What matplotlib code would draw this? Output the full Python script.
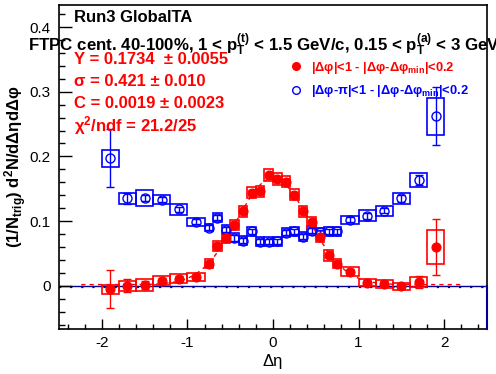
import numpy as np
import matplotlib
matplotlib.use("Agg")
import matplotlib.pyplot as plt
from matplotlib.lines import Line2D

plt.rcParams['font.family'] = ['Liberation Sans', 'DejaVu Sans']
plt.rcParams['mathtext.fontset'] = 'custom'
plt.rcParams['mathtext.rm'] = 'Liberation Sans:bold'
plt.rcParams['mathtext.it'] = 'Liberation Sans:bold'
plt.rcParams['mathtext.bf'] = 'Liberation Sans:bold'

# ---- data ----
eta = [-1.9, -1.7, -1.5, -1.3, -1.1, -0.9,
       -0.75, -0.65, -0.55, -0.45, -0.35, -0.25, -0.15, -0.05,
       0.05, 0.15, 0.25, 0.35, 0.45, 0.55, 0.65, 0.75,
       0.9, 1.1, 1.3, 1.5, 1.7, 1.9]
bin_width = [0.2] * 6 + [0.1] * 16 + [0.2] * 6

near_y = [-0.005, 0.000, 0.001, 0.008, 0.011, 0.014,
          0.034, 0.062, 0.074, 0.094, 0.115, 0.144, 0.146, 0.171,
          0.165, 0.161, 0.141, 0.115, 0.098, 0.076, 0.047, 0.034,
          0.022, 0.005, 0.003, -0.001, 0.006, 0.060]
near_stat = [0.030, 0.010, 0.006, 0.004, 0.004, 0.004,
             0.004, 0.004, 0.004, 0.004, 0.004, 0.004, 0.004, 0.004,
             0.004, 0.004, 0.004, 0.004, 0.004, 0.004, 0.004, 0.004,
             0.004, 0.004, 0.004, 0.004, 0.009, 0.043]
near_sys = [0.007, 0.008, 0.009, 0.007, 0.007, 0.006,
            0.007, 0.008, 0.008, 0.008, 0.009, 0.009, 0.009, 0.009,
            0.009, 0.009, 0.009, 0.009, 0.008, 0.008, 0.008, 0.007,
            0.007, 0.006, 0.006, 0.006, 0.008, 0.026]

away_y = [0.197, 0.135, 0.136, 0.133, 0.118, 0.099,
          0.090, 0.105, 0.087, 0.074, 0.070, 0.084, 0.068, 0.068,
          0.069, 0.082, 0.084, 0.076, 0.085, 0.083, 0.084, 0.084,
          0.102, 0.108, 0.116, 0.135, 0.164, 0.262]
away_stat = [0.045, 0.009, 0.005, 0.004, 0.004, 0.004,
             0.004, 0.004, 0.004, 0.004, 0.004, 0.004, 0.004, 0.004,
             0.004, 0.004, 0.004, 0.004, 0.004, 0.004, 0.004, 0.004,
             0.004, 0.004, 0.004, 0.005, 0.008, 0.045]
away_sys = [0.013, 0.009, 0.012, 0.007, 0.008, 0.006,
            0.006, 0.007, 0.007, 0.007, 0.007, 0.007, 0.007, 0.007,
            0.007, 0.007, 0.007, 0.007, 0.007, 0.007, 0.007, 0.007,
            0.006, 0.0085, 0.008, 0.008, 0.011, 0.029]

fit_Y, fit_sigma, fit_C = 0.1734, 0.421, 0.0019
fit_range = [-2.24, 2.23]

xticks = [-2, -1, 0, 1, 2]
yticks = [0, 0.1, 0.2, 0.3, 0.4]

RED = '#ff0000'
BLUE = '#0000ff'
NAVY = '#000099'

fig = plt.figure(figsize=(4.96, 3.74), dpi=100)
ax = fig.add_axes([59/496, 1-329/374, (487-59)/496, (329-5)/374])
ax.set_xlim(-2.5, 2.5)
ax.set_ylim(-0.0667, 0.434)

eta_a = np.array(eta)
w = np.array(bin_width)

# systematic boxes
for yv, sy, col in [(away_y, away_sys, BLUE), (near_y, near_sys, RED)]:
    yv = np.array(yv); sy = np.array(sy)
    ax.bar(eta_a, 2*sy, width=w, bottom=yv-sy, fill=False, edgecolor=col,
           linewidth=1.2, zorder=2)

# zero line
ax.axhline(0, color=NAVY, lw=1.0, zorder=1)
ax.axhline(-0.0012, color=NAVY, lw=1.6, ls=(0, (1, 4)), zorder=1)
ax.plot([2.5, 2.5], [-0.0667, 0], color=NAVY, lw=1.5, zorder=5, clip_on=False)

# fit
xf = np.linspace(fit_range[0], fit_range[1], 400)
yf = fit_C + fit_Y/(np.sqrt(2*np.pi)*fit_sigma)*np.exp(-xf**2/(2*fit_sigma**2))
ax.plot(xf, yf, color=RED, lw=1.0, ls=(0, (3, 3)), zorder=3)

# data points
ax.errorbar(eta, away_y, yerr=away_stat, fmt='o', ms=6.5, mfc='none', mec=BLUE,
            mew=1.0, ecolor=BLUE, elinewidth=1.0, capsize=3, capthick=1.0, zorder=4)
ax.errorbar(eta, near_y, yerr=near_stat, fmt='o', ms=6.3, mfc=RED, mec=RED,
            ecolor=RED, elinewidth=1.0, capsize=3, capthick=1.0, zorder=4)

# ticks
ax.set_xticks(xticks)
ax.set_xticklabels(['-2', '-1', '0', '1', '2'])
ax.set_yticks(yticks)
ax.set_yticklabels(['0', '0.1', '0.2', '0.3', '0.4'])
ax.set_xticks(np.arange(-2.4, 2.41, 0.2), minor=True)
ax.set_yticks(np.arange(-0.06, 0.431, 0.02), minor=True)
ax.tick_params(axis='both', which='both', direction='in', top=False, right=False,
               labelsize=11, width=1)
ax.tick_params(axis='y', which='major', length=9, pad=6)
ax.tick_params(axis='y', which='minor', length=4.5)
ax.tick_params(axis='x', which='major', length=7, pad=5)
ax.tick_params(axis='x', which='minor', length=3.6)
for s in ax.spines.values():
    s.set_linewidth(1.2)

ax.set_xlabel('Δη', fontsize=12, labelpad=3)
fig.text(16/496, 1-167/374, r'(1/N$_{\mathregular{trig}}$) d$^{\mathregular{2}}$N/dΔηdΔφ',
         rotation=90, fontsize=12, fontweight='bold', ha='center', va='center')

# texts
fig.text(74/496, 1-18/374, 'Run3 GlobalTA', fontsize=12, fontweight='bold',
         ha='left', va='center')
fig.text(28/496, 1-45/374,
         r'FTPC cent. 40-100%, 1 < p$_{\mathregular{T}}^{\mathregular{(t)}}$ < 1.5 GeV/c, 0.15 < p$_{\mathregular{T}}^{\mathregular{(a)}}$ < 3 GeV/c',
         fontsize=12.2, fontweight='bold', ha='left', va='center')
red_lines = ['Y = 0.1734  ± 0.0055', 'σ = 0.421 ± 0.010',
             'C = 0.0019 ± 0.0023', r'χ$^{\mathregular{2}}$/ndf = 21.2/25']
for i, t in enumerate(red_lines):
    fig.text(74/496, 1-(60+22*i)/374, t, fontsize=12, fontweight='bold',
             color=RED, ha='left', va='center')

handles = [Line2D([], [], ls='none', marker='o', ms=5.5, mfc=RED, mec=RED),
           Line2D([], [], ls='none', marker='o', ms=5.5, mfc='none', mec=BLUE)]
labels = [r'|Δφ|<1 - |Δφ-Δφ$_{\mathregular{min}}$|<0.2',
          r'|Δφ-π|<1 - |Δφ-Δφ$_{\mathregular{min}}$|<0.2']
leg = ax.legend(handles, labels, loc='upper left', bbox_to_anchor=(290/496, 1-60/374),
                bbox_transform=fig.transFigure, frameon=False, handlelength=1.0,
                handletextpad=0.6, labelspacing=0.55, borderpad=0, borderaxespad=0,
                prop={'size': 9.3, 'weight': 'bold'})
for txt, col in zip(leg.get_texts(), [RED, BLUE]):
    txt.set_color(col)

fig.savefig('out.png', dpi=100)
